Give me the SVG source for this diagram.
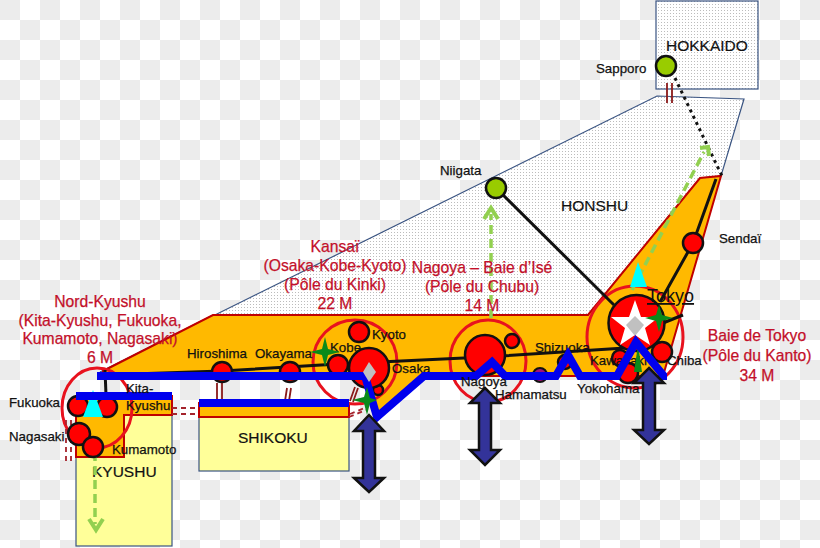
<svg xmlns="http://www.w3.org/2000/svg" width="820" height="548" viewBox="0 0 820 548">
<style>
text{font-family:"Liberation Sans",Arial,sans-serif}
.lb{font-size:13.3px;fill:#111;stroke:#111;stroke-width:.25}
.rd{font-size:15.7px;fill:#c3102a;stroke:#c3102a;stroke-width:.25;text-anchor:middle}
.isl{font-size:15.5px;fill:#111;stroke:#111;stroke-width:.2}
.city{fill:#ff0000;stroke:#111;stroke-width:2.5}
.green{fill:#99cc00;stroke:#111;stroke-width:2.5}
.ring{fill:none;stroke:#e8121e;stroke-width:3}
.land{stroke:#3a5482;stroke-width:1.2}
.or{fill:#ffb900;stroke:#c00000;stroke-width:2}
.rail{fill:none;stroke:#111;stroke-width:3}
.blue{fill:none;stroke:#0000ee;stroke-width:8;stroke-linejoin:miter}
.dbl{fill:none;stroke:#8b1a1a;stroke-width:1.8}
.dash{fill:none;stroke:#a5232c;stroke-width:1.8;stroke-dasharray:5 4}
.gd{fill:none;stroke:#92d050;stroke-width:3.5;stroke-dasharray:9 5}
.gh{fill:none;stroke:#92d050;stroke-width:4}
.dd{fill:#333399;stroke:#111;stroke-width:2.5;stroke-linejoin:miter}
.st{fill:#0a8a1a}
</style>
<defs>
<pattern id="chk" width="40" height="40" patternUnits="userSpaceOnUse"><rect width="40" height="40" fill="#fff"/><rect width="20" height="20" fill="#ececec"/><rect x="20" y="20" width="20" height="20" fill="#ececec"/></pattern>
<pattern id="dots" width="3" height="3" patternUnits="userSpaceOnUse"><rect width="3" height="3" fill="#fff"/><rect x="1" y="1" width="1" height="1" fill="#bcbcbc"/></pattern>
</defs>
<rect id="background" width="820" height="548" fill="url(#chk)"/>
<g id="hokkaido"><rect class="land" x="656" y="1" width="102" height="88" fill="url(#dots)"/><text class="isl" x="666" y="51">HOKKAIDO</text></g>
<g id="honshu"><path class="land" d="M100,372L657,96L744,99L721,176L700,178L588,315L213,315Z" fill="url(#dots)"/><text class="isl" x="561" y="211">HONSHU</text></g>
<g id="honshu-belt"><path class="or" d="M103,371L213,315L588,315L700,178L721,176L663,376H424L377,417L365,376H103Z"/></g>
<g id="kyushu"><rect class="land" x="76" y="415" width="96" height="131" fill="#ffff99"/><path class="or" d="M76,396H172V415H124V457H76Z"/><text class="isl" x="92" y="477">KYUSHU</text></g>
<g id="shikoku"><rect class="land" x="199" y="403" width="150" height="68" fill="#ffff99"/><rect class="or" x="199" y="403" width="150" height="14"/><text class="isl" x="238" y="443">SHIKOKU</text></g>
<g id="rings"><ellipse class="ring" cx="97" cy="408" rx="35" ry="40"/><ellipse class="ring" cx="355" cy="362" rx="42" ry="42"/><ellipse class="ring" cx="488" cy="361" rx="38" ry="41"/><ellipse class="ring" cx="635" cy="337" rx="48" ry="51"/></g>
<g id="connectors">
<path class="rail" d="M103,375L222,371L338,364L485,357L625,348"/>
<path class="rail" d="M105,370L106,395"/>
<path class="rail" d="M496,188L614,305"/>
<path class="rail" d="M660,302L693,243L716,179"/>
<path class="rail" d="M663,323L683,315"/>
<path class="dbl" d="M667,83V103M672,83V103M217,383V400M222,383V400M287,388L285,401M291,388L289,401M355,387L350,401M358,388L353,402"/>
<path class="dash" d="M172,408H199M172,414H199M349,417L366,410M350,414L367,407M66,420V462M71,420V462"/>
<path d="M675,78L722,176" fill="none" stroke="#111" stroke-width="3" stroke-dasharray="3 4"/>
<path class="gd" d="M491,318V214"/><path class="gh" d="M484,219L491,208L498,219"/>
<path class="gd" d="M95,452V524"/><path class="gh" d="M89,519L96,530L103,519"/>
<path class="gd" d="M632,290L704,152"/><path class="gh" d="M700,148L708,147L709,156"/>
</g>
<g id="sapporo"><circle class="green" cx="666" cy="66" r="10"/><text class="lb" x="596" y="73">Sapporo</text></g>
<g id="niigata"><circle class="green" cx="496" cy="188" r="10"/><text class="lb" x="440" y="175">Niigata</text></g>
<g id="sendai"><circle class="city" cx="693" cy="243" r="10"/><text class="lb" x="719" y="243">Sendaï</text></g>
<g id="chiba"><circle class="city" cx="662" cy="352" r="10"/><text class="lb" x="667" y="365">Chiba</text></g>
<g id="kawasaki"><circle class="city" cx="620" cy="358" r="8"/><text class="lb" x="590" y="365">Kawasaki</text></g>
<g id="yokohama"><circle class="city" cx="628" cy="373" r="10"/><text class="lb" x="577" y="393">Yokohama</text></g>
<g id="tokyo"><path d="M638,262L647,287H630Z" fill="#00ffff"/><circle class="city" cx="636.5" cy="323" r="28"/><path d="M635,300L641,317L659,317L645,328L650,345L635,335L620,345L625,328L611,317L629,317Z" fill="#fff"/><path d="M635,316L644,325L635,336L626,325Z" fill="#c0c0c0"/><path class="st" d="M659,305L662,315L673,318L662,321L659,332L656,321L645,318L656,315Z"/><text x="647" y="302" font-size="18" fill="#111" text-decoration="underline">Tokyo</text><path class="st" d="M638,345L642,372H634Z"/></g>
<g id="shizuoka"><circle class="city" cx="565" cy="362" r="7"/><text class="lb" x="535" y="352">Shizuoka</text></g>
<g id="hamamatsu"><circle cx="540" cy="375" r="7" fill="#a0107a" stroke="#111" stroke-width="2"/><text class="lb" x="495" y="399">Hamamatsu</text></g>
<g id="nagoya"><circle class="city" cx="485" cy="355" r="20"/><circle class="city" cx="512" cy="341" r="7"/></g>
<g id="kyoto"><circle class="city" cx="359" cy="332" r="10"/><text class="lb" x="372" y="339">Kyoto</text></g>
<g id="kobe"><circle class="city" cx="338" cy="365" r="10"/><text class="lb" x="330" y="352">Kobe</text><path class="st" d="M325,337L328,349L340,352L328,355L325,367L322,355L310,352L322,349Z"/></g>
<g id="osaka"><circle class="city" cx="378" cy="390" r="5"/><circle class="city" cx="369" cy="368" r="20"/><text class="lb" x="392" y="373">Osaka</text></g>
<g id="okayama"><circle class="city" cx="290" cy="372" r="10"/><text class="lb" x="255" y="358">Okayama</text></g>
<g id="hiroshima"><circle class="city" cx="222" cy="372" r="10"/><text class="lb" x="187" y="358">Hiroshima</text></g>
<g id="fukuoka"><circle class="city" cx="78" cy="406" r="10"/><text class="lb" x="9" y="407">Fukuoka</text></g>
<g id="kita-kyushu"><circle class="city" cx="107" cy="407" r="10"/><path d="M93,390L103,417H83Z" fill="#00ffff"/></g>
<g id="nagasaki"><circle class="city" cx="79" cy="434" r="11"/><text class="lb" x="9" y="441">Nagasaki</text></g>
<g id="kumamoto"><circle class="city" cx="93" cy="447" r="10"/><text class="lb" x="112" y="454">Kumamoto</text></g>
<g id="high-speed-lines">
<path class="blue" d="M97,376H365L377,417L424,376H476L492,362L505,376H556L568,355L580,376H617L636,342L663,375V380"/>
<path class="blue" d="M76,396H172M199,403H349"/>
</g>
<g id="kansai-markers"><path d="M369,362L376,372L369,382L363,372Z" fill="#c0c0c0"/><path class="st" d="M367,387L370,398L377,400L370,403L367,415L364,403L352,400L364,397Z"/></g>
<g id="double-arrows">
<path class="dd" d="M369,415L384,431H375V478H384L369,492L354,478H363V431H354Z"/>
<path class="dd" d="M485,388L500,403H491V450H500L485,465L470,450H479V403H470Z"/>
<path class="dd" d="M649,368L664,383H655V430H664L649,444L634,430H643V383H634Z"/>
</g>
<g id="top-labels">
<text class="lb" x="461" y="386">Nagoya</text>
<text class="lb" x="126" y="393">Kita-</text><text class="lb" x="126" y="410">Kyushu</text>
</g>
<g id="region-nord-kyushu"><text class="rd" x="100" y="307">Nord-Kyushu</text><text class="rd" x="100" y="326">(Kita-Kyushu, Fukuoka,</text><text class="rd" x="100" y="344">Kumamoto, Nagasaki)</text><text class="rd" x="100" y="363">6 M</text></g>
<g id="region-kansai"><text class="rd" x="335" y="252">Kansaï</text><text class="rd" x="335" y="271">(Osaka-Kobe-Kyoto)</text><text class="rd" x="335" y="290">(Pôle du Kinki)</text><text class="rd" x="335" y="309">22 M</text></g>
<g id="region-nagoya"><text class="rd" x="482" y="273">Nagoya – Baie d’Isé</text><text class="rd" x="482" y="292">(Pôle du Chubu)</text><text class="rd" x="482" y="311">14 M</text></g>
<g id="region-tokyo"><text class="rd" x="757" y="341">Baie de Tokyo</text><text class="rd" x="757" y="361">(Pôle du Kanto)</text><text class="rd" x="757" y="381">34 M</text></g>
</svg>
